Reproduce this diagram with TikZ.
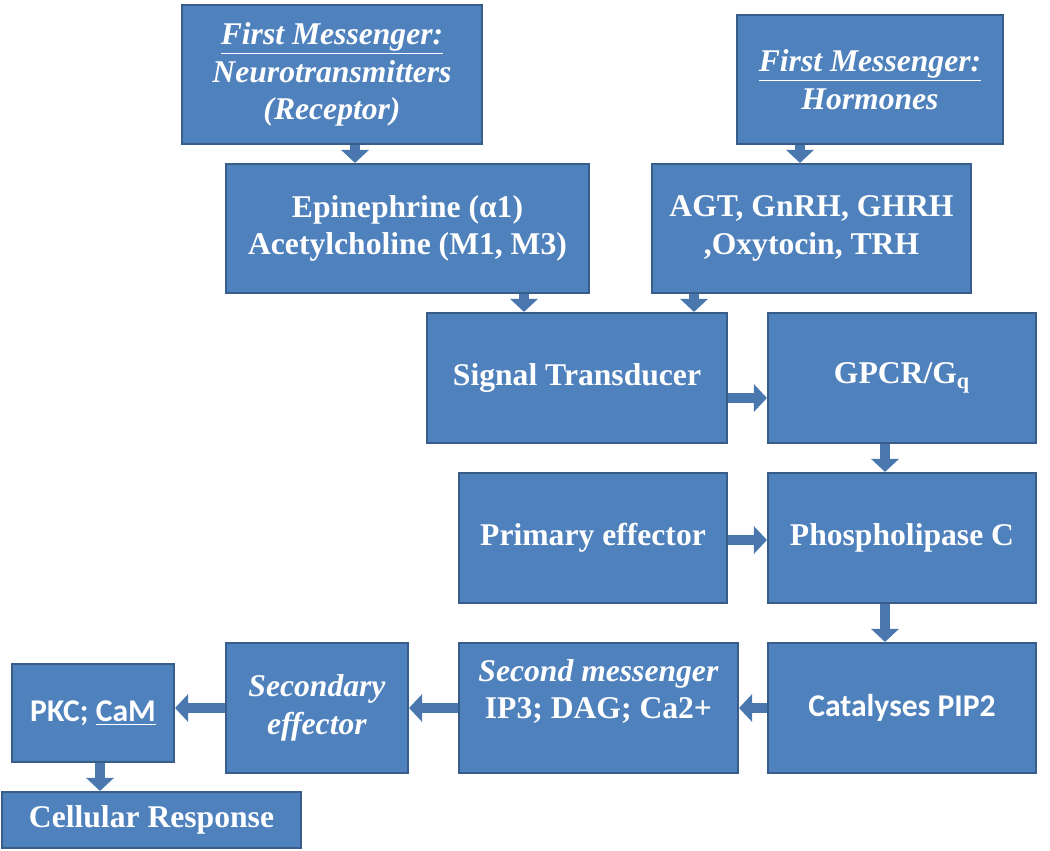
\documentclass[tikz,border=0pt]{standalone}
\usepackage{fontspec}
\setmainfont{Liberation Serif}
\newfontfamily\calibri{Carlito}
\usetikzlibrary{arrows.meta}
\definecolor{boxblue}{HTML}{4F81BD}
\definecolor{edgeblue}{HTML}{385D8A}
\tikzset{
    box/.style={draw=edgeblue, line width=1.2pt, fill=boxblue, text=white,
        font=\fontsize{18}{21.5}\selectfont\bfseries, align=center, inner sep=0pt},
    flow/.style={draw=boxblue!92!black, line width=0.2cm,
        -{Triangle[width=0.54cm,length=0.26cm]}}
}
\begin{document}
\begin{tikzpicture}
                \useasboundingbox (0,0) rectangle (21,-17.02);
                \node [box, minimum width=6cm, minimum height=2.78cm] (nt) at (6.64,-1.49) {\underline{\textit{First Messenger:}}\\\textit{Neurotransmitters}\\\textit{(Receptor)}};
                \node [box, minimum width=5.32cm, minimum height=2.58cm] (hor) at (17.4,-1.59) {\underline{\textit{First Messenger:}}\\\textit{Hormones}};
                \node [box, minimum width=7.26cm, minimum height=2.58cm] (epi) at (8.15,-4.57) {Epinephrine (α1)\\Acetylcholine (M1, M3)};
                \node [box, minimum width=6.38cm, minimum height=2.58cm] (agt) at (16.23,-4.57) {AGT, GnRH, GHRH\\,Oxytocin, TRH};
                \node [box, minimum width=6cm, minimum height=2.6cm] (st) at (11.54,-7.56) {Signal Transducer};
                \node [box, minimum width=5.36cm, minimum height=2.6cm] (gpcr) at (18.04,-7.56) {GPCR/G\textsubscript{q}};
                \node [box, minimum width=5.36cm, minimum height=2.6cm] (pe) at (11.86,-10.76) {Primary effector};
                \node [box, minimum width=5.36cm, minimum height=2.6cm] (plc) at (18.04,-10.76) {Phospholipase C};
                \node [box, minimum width=5.36cm, minimum height=2.6cm] (pip) at (18.04,-14.16) {\calibri Catalyses PIP2};
                \node [box, minimum width=5.58cm, minimum height=2.6cm] (sm) at (11.97,-14.16) {\textit{Second messenger}\\IP3; DAG; Ca2+\\~};
                \node [box, minimum width=3.64cm, minimum height=2.6cm] (se) at (6.34,-14.16) {\textit{Secondary}\\\textit{effector}};
                \node [box, minimum width=3.24cm, minimum height=1.96cm] (pkc) at (1.86,-14.26) {\calibri PKC; \underline{CaM}};
                \node [box, minimum width=5.98cm, minimum height=1.12cm] (cr) at (3.03,-16.4) {Cellular Response};
                \draw [flow] ([xshift=0.46cm]nt.south) coordinate (a1) -- (a1 |- epi.north);
                \draw [flow] ([xshift=-1.4cm]hor.south) coordinate (a2) -- (a2 |- agt.north);
                \draw [flow] ([xshift=2.33cm]epi.south) coordinate (a3) -- (a3 |- st.north);
                \draw [flow] ([xshift=-2.35cm]agt.south) coordinate (a4) -- (a4 |- st.north);
                \draw [flow] ([yshift=-0.4cm]st.east) coordinate (a5) -- (a5 -| gpcr.west);
                \draw [flow] ([xshift=-0.34cm]gpcr.south) coordinate (a6) -- (a6 |- plc.north);
                \draw [flow] ([yshift=-0.04cm]pe.east) coordinate (a7) -- (a7 -| plc.west);
                \draw [flow] ([xshift=-0.34cm]plc.south) coordinate (a8) -- (a8 |- pip.north);
                \draw [flow] (pip.west) -- (sm.east);
                \draw [flow] (sm.west) -- (se.east);
                \draw [flow] (se.west) coordinate (a9) -- (a9 -| pkc.east);
                \draw [flow] ([xshift=0.14cm]pkc.south) coordinate (a10) -- (a10 |- cr.north);
\end{tikzpicture}
\end{document}
